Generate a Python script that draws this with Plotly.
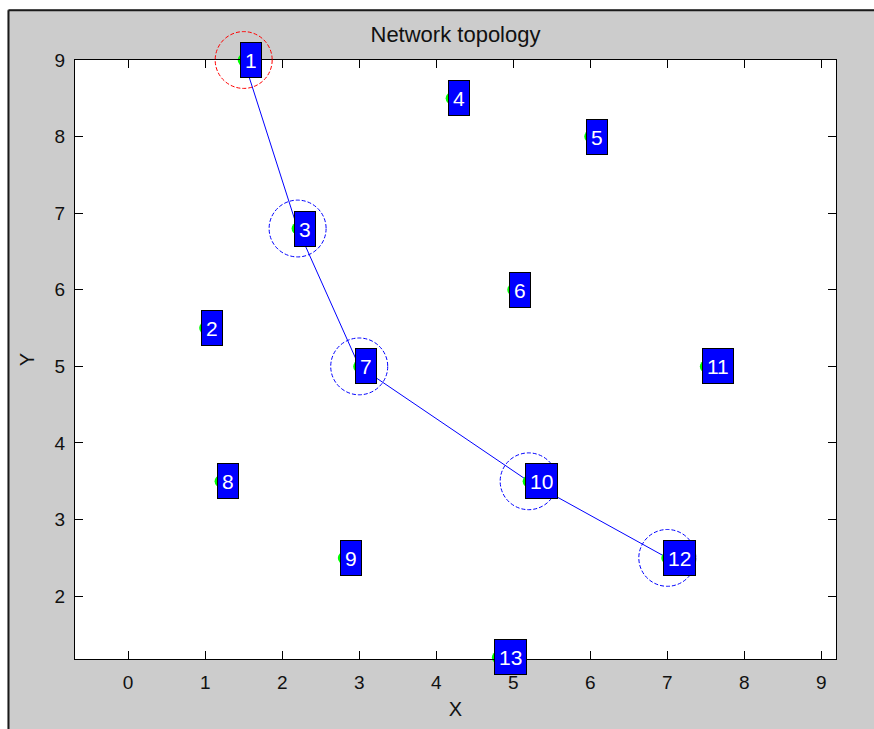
import plotly.graph_objects as go

# ---- data ----
node_ids = list(range(1, 14))
node_x = [1.5, 1.0, 2.2, 4.2, 6.0, 5.0, 3.0, 1.2, 2.8, 5.2, 7.5, 7.0, 4.8]
node_y = [9.0, 5.5, 6.8, 8.5, 8.0, 6.0, 5.0, 3.5, 2.5, 3.5, 5.0, 2.5, 1.2]
path_nodes = [1, 3, 7, 10, 12]
source_node = 1
circle_radius = 0.37
x_ticks = list(range(0, 10))
y_ticks = list(range(2, 10))
x_range = [-0.69, 9.19]
y_range = [1.18, 9.0]

W, H = 874, 729
L, R, T, B = 75, 836, 60, 661  # plot area pixel box (page coords)


def px_x(p):
    return (p - L) / (R - L)


def px_y(p):
    return (B - p) / (B - T)


def data_to_paper_x(v):
    return (v - x_range[0]) / (x_range[1] - x_range[0])


def data_to_paper_y(v):
    return (v - y_range[0]) / (y_range[1] - y_range[0])


fig = go.Figure()

px_ = [node_x[n - 1] for n in path_nodes]
py_ = [node_y[n - 1] for n in path_nodes]
fig.add_trace(go.Scatter(x=px_, y=py_, mode="lines",
                         line=dict(color="#0000ff", width=1), hoverinfo="skip"))
fig.add_trace(go.Scatter(x=node_x, y=node_y, mode="markers", cliponaxis=False,
                         marker=dict(color="#00ff00", size=12, line=dict(width=0)),
                         hoverinfo="skip"))

shapes = []
# white surround at top and left, then the window frame edges
shapes.append(dict(type="rect", xref="paper", yref="paper", layer="below",
                   x0=-0.3, x1=1.3, y0=px_y(9), y1=1.3,
                   fillcolor="white", line=dict(width=0)))
shapes.append(dict(type="rect", xref="paper", yref="paper", layer="below",
                   x0=-0.3, x1=px_x(7.5), y0=-0.3, y1=1.3,
                   fillcolor="white", line=dict(width=0)))
shapes.append(dict(type="line", xref="paper", yref="paper",
                   x0=px_x(8.5), x1=1.3, y0=px_y(10), y1=px_y(10),
                   line=dict(color="#1a1a1a", width=2)))
shapes.append(dict(type="line", xref="paper", yref="paper",
                   x0=px_x(8.5), x1=px_x(8.5), y0=px_y(10), y1=-0.3,
                   line=dict(color="#1a1a1a", width=2)))

sx = (R - L) / (x_range[1] - x_range[0])
sy = (B - T) / (y_range[1] - y_range[0])
for n in path_nodes:
    cx, cy = node_x[n - 1], node_y[n - 1]
    col = "#ff0000" if n == source_node else "#0000ff"
    rx = circle_radius
    ry = circle_radius * sx / sy
    shapes.append(dict(type="circle", xref="paper", yref="paper",
                       x0=data_to_paper_x(cx - rx), x1=data_to_paper_x(cx + rx),
                       y0=data_to_paper_y(cy - ry), y1=data_to_paper_y(cy + ry),
                       line=dict(color=col, width=1, dash="4px,2px")))

annotations = []
for n, x, y in zip(node_ids, node_x, node_y):
    annotations.append(dict(x=x, y=y, xref="x", yref="y", text=str(n),
                            showarrow=False, xanchor="left", yanchor="middle",
                            xshift=-4, height=26, valign="middle",
                            font=dict(family="Liberation Sans, Arial", size=21, color="white"),
                            bgcolor="#0000ff", bordercolor="black", borderwidth=1,
                            borderpad=4))

fig.update_layout(
    width=W, height=H,
    margin=dict(l=L, r=W - R, t=T, b=H - B),
    paper_bgcolor="#cccccc", plot_bgcolor="white",
    showlegend=False,
    shapes=shapes, annotations=annotations,
    title=dict(text="Network topology", x=(L + R) / 2 / W, xanchor="center",
               y=1 - 34 / H, yanchor="middle",
               font=dict(family="Liberation Sans, Arial", size=22, color="#111111")),
    font=dict(family="Liberation Sans, Arial", size=18, color="#111111"),
)
fig.update_xaxes(range=x_range, tickvals=x_ticks, ticks="inside", ticklen=8,
                 tickcolor="black", showline=True, linecolor="black", linewidth=1,
                 mirror="ticks", showgrid=False, zeroline=False, ticklabelstandoff=6,
                 title=dict(text="X", standoff=10, font=dict(size=20)), tickfont=dict(size=19))
fig.update_yaxes(range=y_range, tickvals=y_ticks, ticks="inside", ticklen=8,
                 tickcolor="black", showline=True, linecolor="black", linewidth=1,
                 mirror="ticks", showgrid=False, zeroline=False, ticklabelstandoff=5,
                 title=dict(text="Y", standoff=14, font=dict(size=20)), tickfont=dict(size=19))

fig.write_html("out.html", config={"displayModeBar": False},
               post_script="document.body.style.margin='0';document.body.style.overflow='hidden';")
